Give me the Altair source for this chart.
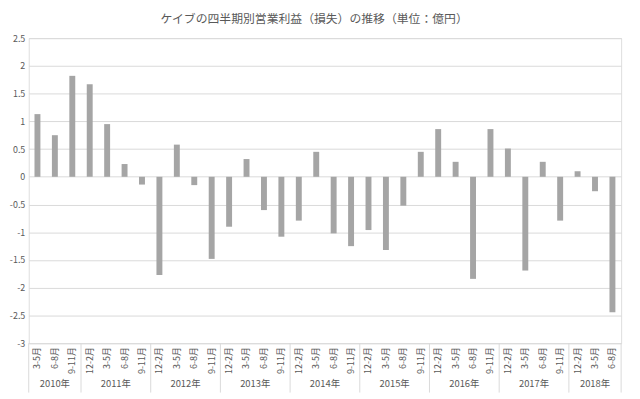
import altair as alt
import pandas as pd

title_text = "ケイブの四半期別営業利益（損失）の推移（単位：億円）"

years = ["2010年"] * 3 + [y for y in ["2011年", "2012年", "2013年", "2014年", "2015年", "2016年", "2017年"] for _ in range(4)] + ["2018年"] * 3
quarters = ["3-5月", "6-8月", "9-11月"] + ["12-2月", "3-5月", "6-8月", "9-11月"] * 7 + ["12-2月", "3-5月", "6-8月"]
values = [1.13, 0.75, 1.82,
          1.67, 0.95, 0.23, -0.14,
          -1.77, 0.58, -0.15, -1.48,
          -0.90, 0.32, -0.60, -1.08,
          -0.79, 0.45, -1.02, -1.25,
          -0.96, -1.32, -0.52, 0.45,
          0.86, 0.27, -1.84, 0.86,
          0.51, -1.69, 0.27, -0.79,
          0.10, -0.26, -2.44]
y_ticks = [2.5, 2, 1.5, 1, 0.5, 0, -0.5, -1, -1.5, -2, -2.5, -3]

n = len(values)
df = pd.DataFrame({"idx": list(range(n)), "year": years, "quarter": quarters, "value": values})

# year groups
groups = []
start = 0
for i in range(1, n + 1):
    if i == n or years[i] != years[start]:
        groups.append({"year": years[start], "start": start, "end": i, "mid": (start + i) / 2})
        start = i
gdf = pd.DataFrame(groups)
bounds = pd.DataFrame({"b": [0] + [g["end"] for g in groups]})

FONT = "Noto Sans CJK JP"
GRAY = "#595959"
W, H = 600, 309

xscale = alt.Scale(domain=[0, n], nice=False, zero=False)
yscale = alt.Scale(domain=[-3, 2.5], nice=False)

bars = alt.Chart(df).transform_calculate(
    lo="datum.idx + 0.33", hi="datum.idx + 0.67", zero="0"
).mark_bar(color="#a5a5a5").encode(
    x=alt.X("lo:Q", scale=xscale,
            axis=alt.Axis(labels=False, ticks=False, grid=False, domainColor="#d9d9d9", title=None)),
    x2="hi:Q",
    y=alt.Y("value:Q", scale=yscale,
            axis=alt.Axis(values=y_ticks, labelExpr="datum.value + ''", labelFontSize=9,
                          labelColor=GRAY, labelFont=FONT, ticks=False, domain=False,
                          gridColor="#d9d9d9", labelPadding=4, title=None)),
    y2="zero:Q",
)

qlabels = alt.Chart(df).transform_calculate(
    mid="datum.idx + 0.5"
).mark_text(font=FONT, fontSize=9, color=GRAY, angle=270, align="right", baseline="middle").encode(
    x=alt.X("mid:Q", scale=xscale, axis=None),
    y=alt.value(H + 4),
    text="quarter:N",
)

seps = alt.Chart(bounds).mark_rule(color="#d9d9d9", strokeWidth=1).encode(
    x=alt.X("b:Q", scale=xscale, axis=None),
    y=alt.value(H),
    y2=alt.value(H + 50),
)

year_labels = alt.Chart(gdf).mark_text(font=FONT, fontSize=9.5, color=GRAY, baseline="middle").encode(
    x=alt.X("mid:Q", scale=xscale, axis=None),
    y=alt.value(H + 41),
    text="year:N",
)

chart = alt.layer(bars, qlabels, seps, year_labels).properties(
    width=W, height=H,
    title=alt.TitleParams(title_text, font=FONT, fontSize=12, fontWeight="normal", color=GRAY,
                          anchor="middle", offset=8, dx=-11),
    autosize=alt.AutoSizeParams(type="none"),
    padding={"left": 21, "top": 28, "right": 11, "bottom": 54},
).configure_view(stroke=None).configure(background="white")

chart.save("out.html", embed_options={"renderer": "svg", "actions": False})
